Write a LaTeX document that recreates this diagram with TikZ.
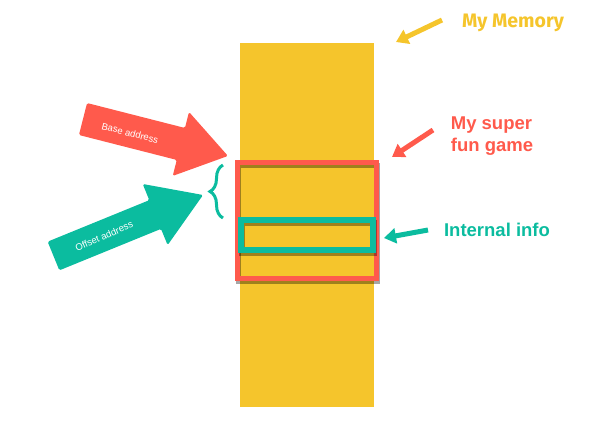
\documentclass[tikz,border=0pt]{standalone}
\usepackage{fontspec}
\setmainfont{Liberation Sans}
\newfontfamily\memfont{Fira Sans}
\usetikzlibrary{arrows.meta,decorations.pathreplacing,shadows}
\definecolor{memyellow}{HTML}{F5C52C}
\definecolor{gamered}{HTML}{FF5A4C}
\definecolor{infoteal}{HTML}{0BBC9F}

\begin{document}
\begin{tikzpicture}[x=1pt, y=-1pt,
  block/.style={draw, rectangle, inner sep=0pt,
    general shadow={draw=black, opacity=.35, shadow xshift=1pt, shadow yshift=-2.5pt}},
  pointer/.style={line width=5pt, -{Triangle[length=12pt 0, width=15pt 0]}},
  callout/.style={font=\bfseries\fontsize{18.5}{22}\selectfont, align=left, inner sep=0pt},
  tag/.style={text=white, font=\fontsize{9.5}{11}\selectfont, inner sep=0pt}
]
\useasboundingbox (0,0) rectangle (597,440);

% the memory and what sits in it
\node[fill=memyellow, minimum width=134pt, minimum height=364pt, inner sep=0pt] (memory) at (307,225) {};
\node[block, draw=gamered, line width=5pt, minimum width=139pt, minimum height=116pt] (game) at (307,220.5) {};
\node[block, draw=infoteal, line width=6pt, minimum width=132pt, minimum height=30pt] (info) at (307,235) {};

% big arrows
\begin{scope}[shift={(83,119)}, rotate=-14.3]
\fill[gamered, rounded corners=1.5pt] (0,-16.5) -- (101,-16.5) -- (101,-33) -- (149.6,0) -- (101,33) -- (101,16.5) -- (0,16.5) -- cycle;
\end{scope}
\begin{scope}[shift={(53.5,256)}, rotate=22.2]
\fill[infoteal, rounded corners=1.5pt] (0,-15.5) -- (109.8,-15.5) -- (109.8,-33) -- (161.5,0) -- (109.8,33) -- (109.8,15.5) -- (0,15.5) -- cycle;
\end{scope}
\node[tag, rotate=-14.3] (basetag) at (130,133) {Base address};
\node[tag, rotate=23.3] (offtag) at (104,236) {Offset address};
\draw[infoteal, line width=3pt, decorate, decoration={brace, amplitude=13pt}] (223,218) -- (223,165);

% labels
\node[text=memyellow, font=\memfont\bfseries\fontsize{19.5}{22}\selectfont, inner sep=0pt] (memlabel) at (513,23) {My Memory};
\node[callout, text=gamered] (gamelabel) at (492,136) {My super\\fun game};
\node[callout, text=infoteal] (infolabel) at (497,230) {Internal info};

\coordinate (memtail) at (442,20);
\coordinate (memtip) at (396,42);
\coordinate (gametail) at (433,130);
\coordinate (gametip) at (392,157);
\coordinate (infotail) at (428,230);
\coordinate (infotip) at (384,238);
\draw[pointer, memyellow] (memtail) -- (memtip);
\draw[pointer, gamered] (gametail) -- (gametip);
\draw[pointer, infoteal] (infotail) -- (infotip);
\end{tikzpicture}
\end{document}
